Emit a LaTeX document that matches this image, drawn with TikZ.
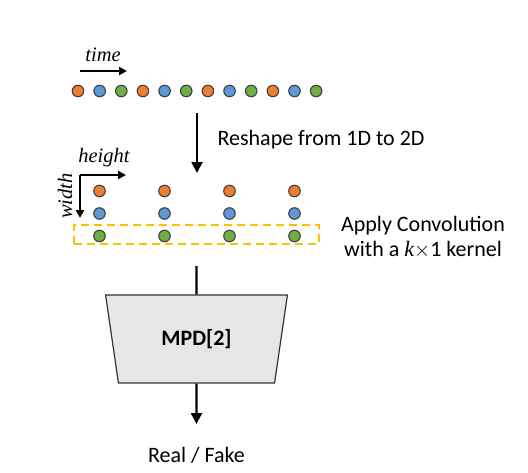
\documentclass[tikz,border=0pt]{standalone}
\usepackage{fontspec}
\setmainfont{Carlito}
\newfontfamily\varfont{Liberation Serif}
\usetikzlibrary{arrows.meta, shapes.geometric}

\definecolor{dotorange}{HTML}{ED7D31}
\definecolor{dotblue}{HTML}{5B9BD5}
\definecolor{dotgreen}{HTML}{70AD47}
\definecolor{convyellow}{HTML}{FFC000}
\definecolor{mpdgray}{HTML}{E7E6E6}

\begin{document}
\begin{tikzpicture}[x=1pt, y=-1pt, >={Stealth[length=11pt, width=11pt, inset=0pt]},
  dot/.style={circle, draw=black!75, line width=1.1pt, minimum size=11.5pt, inner sep=0pt},
  arr/.style={line width=2.2pt},
  axis/.style={line width=2pt, -{Stealth[length=8pt, width=8pt, inset=0pt]}},
  lbl/.style={font=\fontsize{22}{25}\selectfont},
  mathlbl/.style={font=\fontsize{20.5}{22}\varfont\itshape, inner sep=0pt}]

\useasboundingbox (0,0) rectangle (528,472);

% 1D sequence along time
\coordinate (t0) at (80,71);
\coordinate (t1) at (127,71);
\draw[axis] (t0) -- (t1);
\node[mathlbl] (timelbl) at (103,55) {time};

\foreach \n in {0,...,3} {
  \node[dot, fill=dotorange] (s\n o) at ({78+21.65*(3*\n)},91) {};
  \node[dot, fill=dotblue] (s\n b) at ({78+21.65*(3*\n+1)},91) {};
  \node[dot, fill=dotgreen] (s\n g) at ({78+21.65*(3*\n+2)},91) {};
}

% reshape
\coordinate (rsin) at (197,113);
\coordinate (rsout) at (197,173);
\draw[arr, ->] (rsin) -- (rsout);
\node[lbl, anchor=west] (reshape) at (214,140) {Reshape from 1D to 2D};

% 2D grid
\coordinate (corner) at (80,175);
\coordinate (hend) at (126,175);
\coordinate (wend) at (80,218);
\draw[axis] (corner) -- (hend);
\draw[axis] (corner) -- (wend);
\node[mathlbl] (heightlbl) at (104,158) {height};
\node[mathlbl, rotate=90] (widthlbl) at (65,196) {width};

\foreach \n in {0,...,3} {
  \node[dot, fill=dotorange] (g\n o) at ({99.5+65*\n},191) {};
  \node[dot, fill=dotblue] (g\n b) at ({99.5+65*\n},213.5) {};
  \node[dot, fill=dotgreen] (g\n g) at ({99.5+65*\n},236) {};
}

\node[draw=convyellow, line width=2pt, dash pattern=on 8pt off 5pt,
  minimum width=245pt, minimum height=19pt, inner sep=0pt] (conv) at (196.5,234.5) {};
\node[lbl, align=center] (convlbl) at (423,237) {Apply Convolution\\with a {\varfont\itshape k}${\times}$1 kernel};

% discriminator
\node[trapezium, shape border rotate=180, trapezium stretches=true,
  trapezium left angle=76.3, trapezium right angle=76.3,
  minimum width=183pt, minimum height=88pt, draw=black!80, line width=1.2pt,
  fill=mpdgray, font=\fontsize{22}{25}\selectfont\bfseries] (mpd) at (196.5,339) {MPD[2]};

\coordinate (convout) at (196.5,266);
\draw[arr] (convout) -- (mpd.north);

\coordinate (out) at (196.5,424);
\draw[arr, ->] (mpd.south) -- (out);
\node[lbl] (realfake) at (196.5,455) {Real / Fake};

\end{tikzpicture}
\end{document}
